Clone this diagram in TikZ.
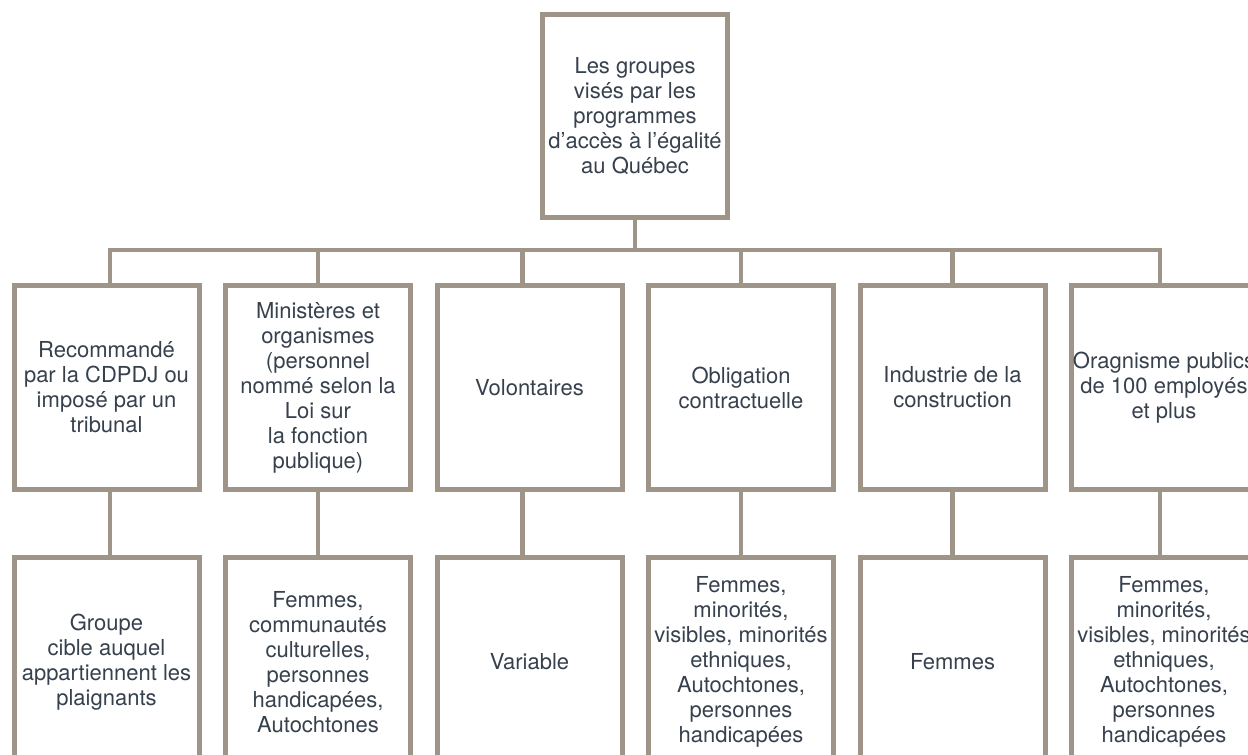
\documentclass[tikz,border=0pt]{standalone}
\usepackage{fontspec}
\setmainfont{TeX Gyre Heros}
\definecolor{taupe}{RGB}{158,148,135}
\definecolor{slate}{RGB}{55,65,78}
\tikzset{
	box/.style={draw=taupe, line width=5pt, fill=white, inner sep=0pt,
		minimum width=185pt, align=center, text=slate,
		font=\fontsize{22}{25}\selectfont},
	link/.style={draw=taupe, line width=4.5pt}
}
\begin{document}
\begin{tikzpicture}[x=1pt, y=-1pt]

	\useasboundingbox (0,0) rectangle (1248,755);
	\clip (0,0) rectangle (1248,755);

	% top
	\node[box, minimum height=203pt] (top) at (635,116)
		{Les groupes\\visés par les\\programmes\\d’accès à l’égalité\\au Québec};
	\coordinate (bar) at (0,250);

	% level 1
	\node[box, minimum height=204pt] (a1) at (106.5,387.5)
		{Recommandé\\par la CDPDJ ou\\imposé par un\\tribunal};
	\node[box, minimum height=204pt] (a2) at (318,387.5)
		{Ministères et\\organismes\\(personnel\\nommé selon la\\Loi sur\\la fonction\\publique)};
	\node[box, minimum height=204pt] (a3) at (529.5,387.5) {Volontaires};
	\node[box, minimum height=204pt] (a4) at (741,387.5) {Obligation\\contractuelle};
	\node[box, minimum height=204pt] (a5) at (952.5,387.5) {Industrie de la\\construction};
	\node[box, minimum height=204pt] (a6) at (1164,387.5)
		{Oragnisme publics\\de 100 employés\\et plus};

	% level 2
	\node[box, minimum height=210pt] (b1) at (106.5,662)
		{Groupe\\cible auquel\\appartiennent les\\plaignants};
	\node[box, minimum height=210pt] (b2) at (318,662)
		{Femmes,\\communautés\\culturelles,\\personnes\\handicapées,\\Autochtones};
	\node[box, minimum height=210pt] (b3) at (529.5,662) {Variable};
	\node[box, minimum height=210pt] (b4) at (741,662)
		{Femmes,\\minorités,\\visibles, minorités\\ethniques,\\Autochtones,\\personnes\\handicapées};
	\node[box, minimum height=210pt] (b5) at (952.5,662) {Femmes};
	\node[box, minimum height=210pt] (b6) at (1164,662)
		{Femmes,\\minorités,\\visibles, minorités\\ethniques,\\Autochtones,\\personnes\\handicapées};

	% connectors
	\draw[link] (top.south) -- (top.south |- bar) -| ([xshift=3.5pt]a1.north);
	\draw[link] (top.south |- bar) -| (a2.north);
	\draw[link] (top.south |- bar) -| ([xshift=-7pt]a3.north);
	\draw[link] (top.south |- bar) -| (a4.north);
	\draw[link] (top.south |- bar) -| (a5.north);
	\draw[link] (top.south |- bar) -| ([xshift=-4pt]a6.north);
	\draw[link] ([xshift=3.5pt]a1.south) -- ([xshift=3.5pt]b1.north);
	\draw[link] (a2) -- (b2);
	\draw[link] ([xshift=-7pt]a3.south) -- ([xshift=-7pt]b3.north);
	\draw[link] (a4) -- (b4);
	\draw[link] (a5) -- (b5);
	\draw[link] ([xshift=-4pt]a6.south) -- ([xshift=-4pt]b6.north);

\end{tikzpicture}
\end{document}
